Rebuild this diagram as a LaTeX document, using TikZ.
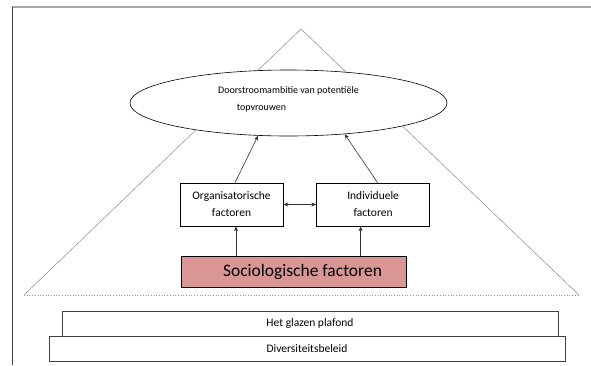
\documentclass[tikz,border=0pt]{standalone}
\usepackage{fontspec}
\setmainfont{Carlito}
\usepackage{tikz}
\usetikzlibrary{positioning, shapes.geometric, arrows.meta}

\definecolor{socred}{HTML}{D99694}

\begin{document}
\begin{tikzpicture}[x=1pt, y=-1pt, font=\fontsize{10}{16.5}\selectfont,
  box/.style={rectangle,draw,fill=white,line width=0.6pt,align=center,inner sep=0pt,
    font=\fontsize{11.5}{17}\selectfont},
  base box/.style={box,draw=black!75,font=\fontsize{11.5}{14}\selectfont},
  arr/.style={-{Stealth[length=5pt,width=4pt]},line width=0.6pt,black!80}]

\useasboundingbox (0,0) rectangle (591,365);

% page frame
\draw[line width=1.6pt, black!35] (12,7) -- (591,7);
\draw[line width=1pt, black!75] (12,7) -- (12,365);

% pyramid
\draw[black!40, line width=0.6pt] (24,295) -- (301,29) -- (579,295);
\draw[black!40, dotted, line width=0.7pt] (24,295) -- (579,295);

\node[ellipse,draw,fill=white,line width=0.6pt,minimum width=317pt,minimum height=66pt,
  align=center,inner sep=0pt] (goal) at (288.5,103)
  {Doorstroomambitie van potentiële\\\hspace*{-54pt}topvrouwen\\[-8pt]};

\node[box, minimum width=103pt, minimum height=43pt] (org) at (231.5,204.5)
  {Organisatorische\\factoren};
\node[box, minimum width=113pt, minimum height=43pt] (ind) [right=33pt of org]
  {Individuele\\factoren};
\node[box, fill=socred, minimum width=225pt, minimum height=31pt,
  font=\fontsize{17.5}{20}\selectfont] (soc) at (293.5,271.5)
  {\hspace*{18pt}Sociologische factoren};

\node[base box, minimum width=496pt, minimum height=25pt] (glas) at (310,323.5)
  {Het glazen plafond};
\node[base box, minimum width=516pt, minimum height=25pt] (div) at (307,348.5)
  {Diversiteitsbeleid};

\draw[arr] ([xshift=3.5pt]org.north) -- (goal.227);
\draw[arr] ([xshift=4.5pt]ind.north) -- (goal.331);
\draw[arr, {Stealth[length=5pt,width=4pt]}-{Stealth[length=5pt,width=4pt]}] (org) -- (ind);
\draw[arr] ([xshift=4.5pt]org.south |- soc.north) -- ([xshift=4.5pt]org.south);
\draw[arr] ([xshift=-12.5pt]ind.south |- soc.north) -- ([xshift=-12.5pt]ind.south);

\end{tikzpicture}
\end{document}
